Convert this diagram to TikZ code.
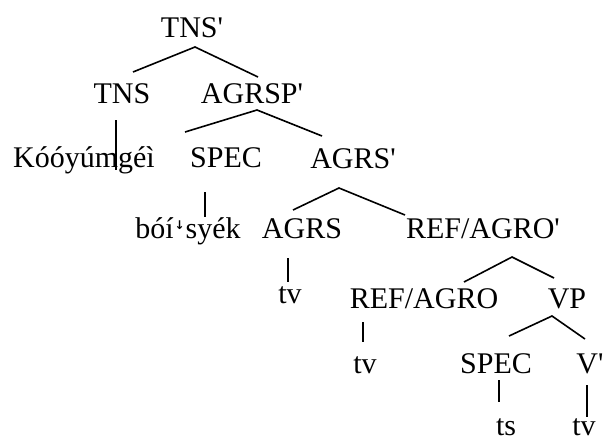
\documentclass[tikz,border=0pt]{standalone}
\usepackage{fontspec}
\setmainfont{Liberation Serif}
\newfontfamily\dejavub{DejaVu Sans Bold}
\newcommand{\pr}{\textquotesingle}
\begin{document}
\begin{tikzpicture}[x=1pt,y=1pt,
  lbl/.style={anchor=base,inner sep=0pt,font=\fontsize{30}{36}\selectfont},
  edge/.style={line width=1.6pt}]
\useasboundingbox (0,0) rectangle (607,-440);
% labels (x = centre, y = -baseline)
\node[lbl] (tnsp)    at (192,-37)  {TNS\pr};
\node[lbl] (tns)     at (122,-103) {TNS};
\node[lbl] (agrspp)  at (252,-103) {AGRSP\pr};
\node[lbl] (koo)     at (84,-167)  {Kóóyúmgéì};
\node[lbl] (spec1)   at (226,-167) {SPEC};
\node[lbl] (agrsp)   at (353,-168) {AGRS\pr};
\node[lbl] (boi)     at (188,-238) {bóí\hspace{1pt}\raisebox{9pt}{\dejavub\fontsize{12}{12}\selectfont ↓}\hspace{1pt}syék};
\node[lbl] (agrs)    at (302,-238) {AGRS};
\node[lbl] (refagrop) at (483,-238) {REF/AGRO\pr};
\node[lbl] (tva)     at (290,-303) {tv};
\node[lbl] (refagro) at (424,-308) {REF/AGRO};
\node[lbl] (vp)      at (567,-308) {VP};
\node[lbl] (tvb)     at (365,-373) {tv};
\node[lbl] (spec2)   at (496,-373) {SPEC};
\node[lbl] (vbar)    at (590,-373) {V\pr};
\node[lbl] (ts)      at (506,-435) {ts};
\node[lbl] (tvc)     at (584,-435) {tv};
% branch points
\coordinate (a1) at (195,-47);  \coordinate (a1l) at (133,-72);  \coordinate (a1r) at (258,-77);
\coordinate (t1) at (116,-120); \coordinate (t1b) at (116,-170);
\coordinate (a2) at (257,-110); \coordinate (a2l) at (185,-132); \coordinate (a2r) at (322,-136);
\coordinate (s1) at (205,-192); \coordinate (s1b) at (205,-217);
\coordinate (a3) at (339,-188); \coordinate (a3l) at (293,-210); \coordinate (a3r) at (405,-215);
\coordinate (g1) at (288,-258); \coordinate (g1b) at (288,-282);
\coordinate (a4) at (512,-257); \coordinate (a4l) at (464,-282); \coordinate (a4r) at (554,-278);
\coordinate (r1) at (363,-322); \coordinate (r1b) at (363,-342);
\coordinate (a5) at (552,-316); \coordinate (a5l) at (509,-336); \coordinate (a5r) at (585,-339);
\coordinate (s2) at (499,-380); \coordinate (s2b) at (499,-402);
\coordinate (v1) at (587,-385); \coordinate (v1b) at (587,-417);
% branches
\draw[edge] (a1l) -- (a1) -- (a1r);
\draw[edge] (t1) -- (t1b);
\draw[edge] (a2l) -- (a2) -- (a2r);
\draw[edge] (s1) -- (s1b);
\draw[edge] (a3l) -- (a3) -- (a3r);
\draw[edge] (g1) -- (g1b);
\draw[edge] (a4l) -- (a4) -- (a4r);
\draw[edge] (r1) -- (r1b);
\draw[edge] (a5l) -- (a5) -- (a5r);
\draw[edge] (s2) -- (s2b);
\draw[edge] (v1) -- (v1b);
\end{tikzpicture}
\end{document}
